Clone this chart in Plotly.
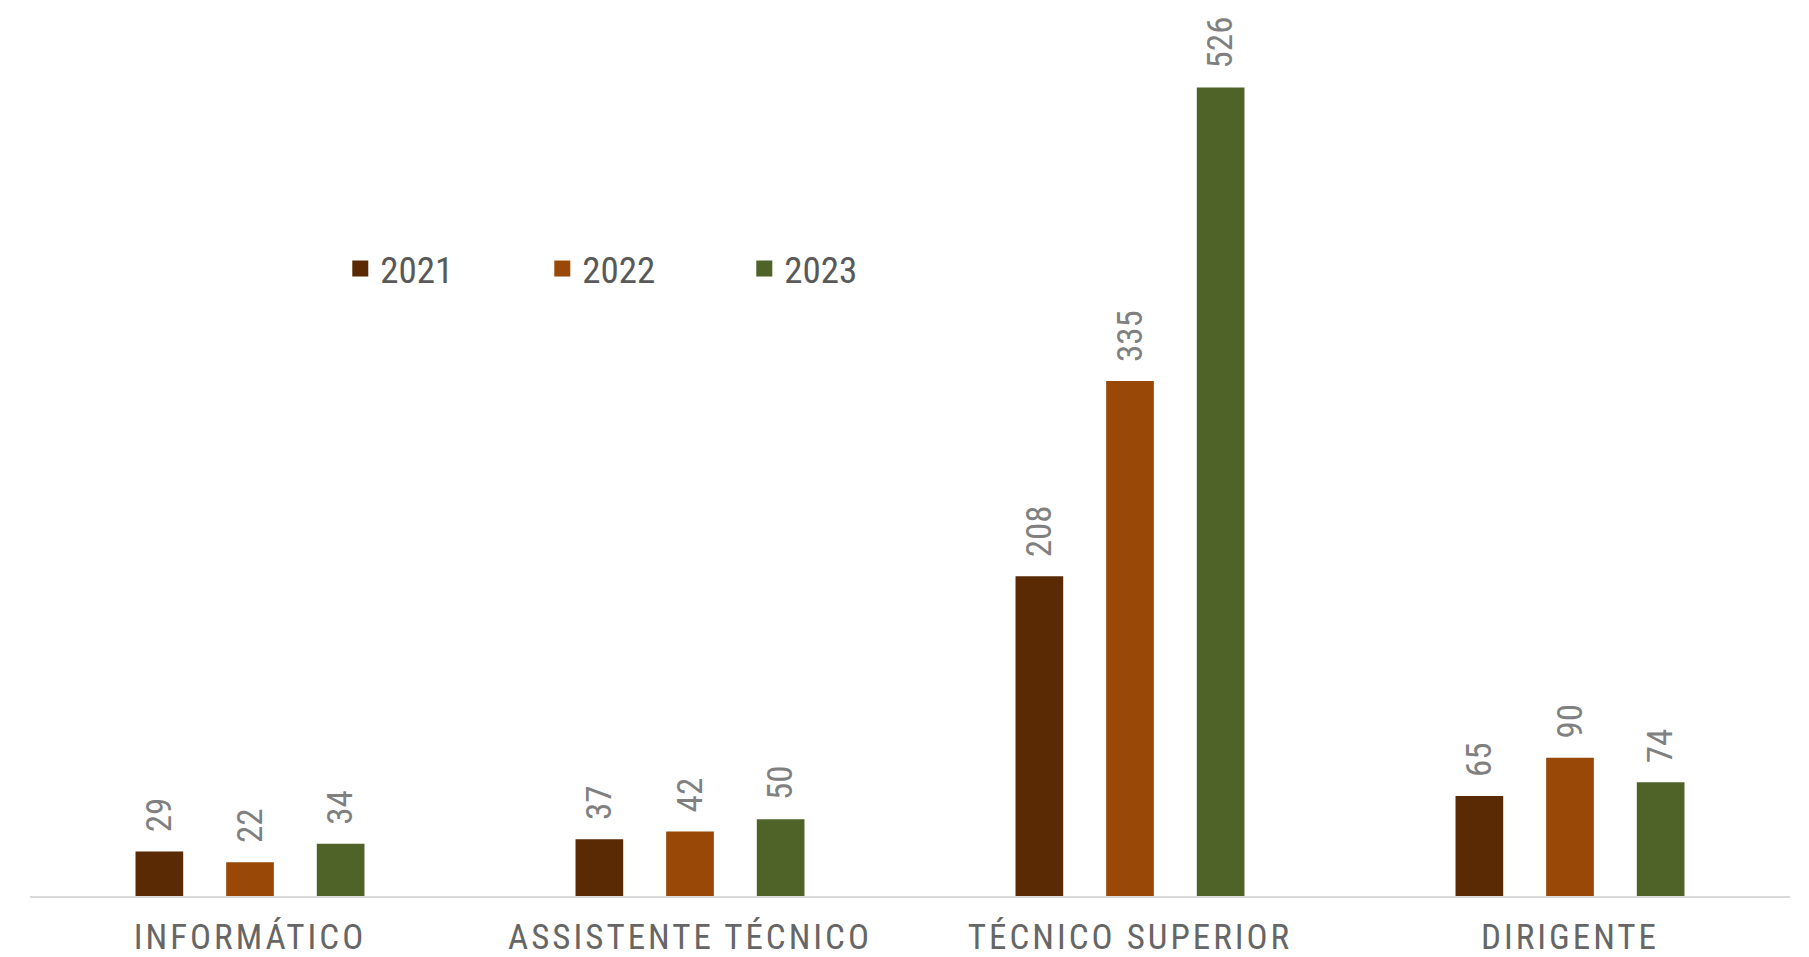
import plotly.graph_objects as go

categories = ["INFORMÁTICO", "ASSISTENTE TÉCNICO", "TÉCNICO SUPERIOR", "DIRIGENTE"]
years = ["2021", "2022", "2023"]
values_2021 = [29, 37, 208, 65]
values_2022 = [22, 42, 335, 90]
values_2023 = [34, 50, 526, 74]
colors = ["#592A03", "#9A4807", "#4F6228"]

FONT = "Liberation Sans Narrow, Roboto Condensed, Roboto, sans-serif"

fig = go.Figure()
for name, vals, col in zip(years, [values_2021, values_2022, values_2023], colors):
    fig.add_trace(go.Bar(
        x=categories, y=vals, name=name, marker_color=col,
        marker_line_width=0,
        texttemplate="\u00a0\u00a0%{y}", textposition="outside", textangle=-90,
        textfont=dict(family=FONT, size=35, color="#808080"),
        constraintext="none",
        cliponaxis=False, showlegend=False,
    ))
    fig.add_trace(go.Scatter(
        x=[None], y=[None], mode="markers", name=name,
        marker=dict(symbol="square", size=20, color=col),
    ))

ticktext = ['<span style="letter-spacing:3px">%s</span>' % c for c in categories]

fig.update_layout(
    width=1801, height=949,
    margin=dict(l=22, r=19, t=2, b=61),
    paper_bgcolor="white", plot_bgcolor="white",
    barmode="group", bargap=0.382, bargroupgap=0.474,
    font=dict(family=FONT),
    xaxis=dict(
        tickvals=categories, ticktext=ticktext,
        tickfont=dict(family=FONT, size=35, color="#666666"),
        showline=True, linecolor="#D9D9D9", linewidth=2,
        ticks="outside", ticklen=9, tickcolor="rgba(0,0,0,0)",
        showgrid=False, zeroline=False, automargin=False,
    ),
    yaxis=dict(range=[0, 576.4], visible=False, showgrid=False,
               zeroline=False, automargin=False),
    legend=dict(
        orientation="h", x=0.1763, y=0.7077, xanchor="left", yanchor="middle",
        font=dict(family=FONT, size=37, color="#595959"),
        entrywidth=157, entrywidthmode="pixels", bgcolor="rgba(0,0,0,0)",
    ),
)

fig.write_html("out.html")
